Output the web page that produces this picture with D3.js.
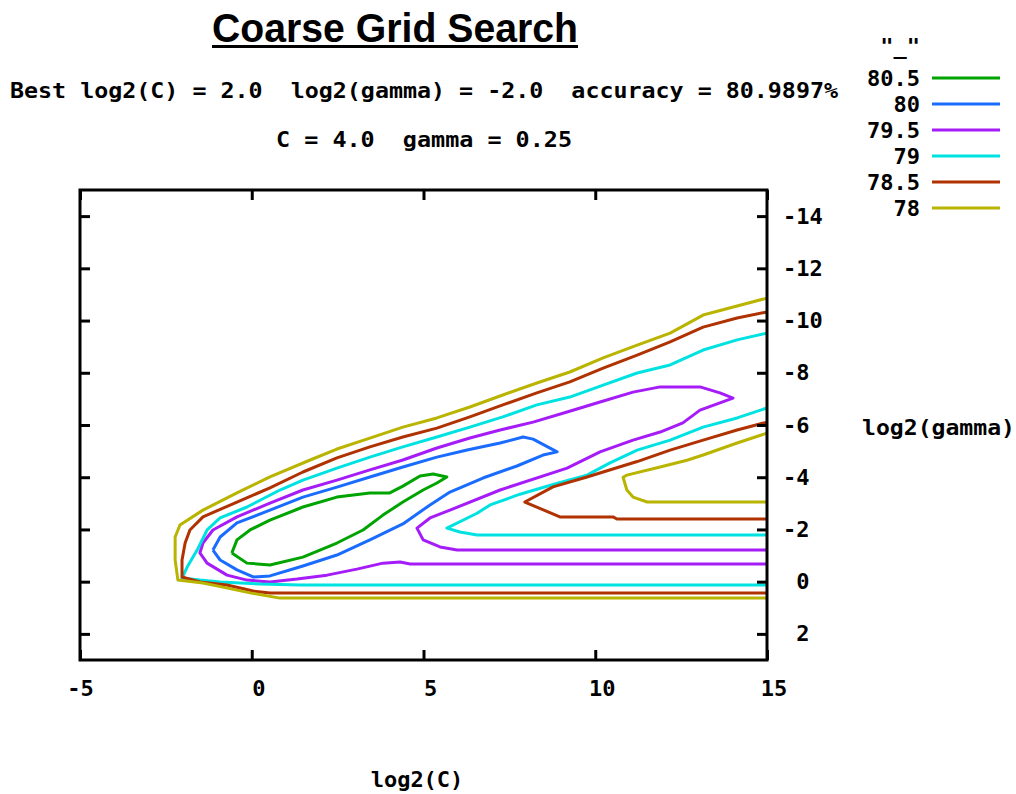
<!DOCTYPE html>
<html>
<head>
<meta charset="utf-8">
<script src="https://cdn.jsdelivr.net/npm/d3@7"></script>
<style>
  html, body { margin: 0; padding: 0; background: #fff; }
  svg { display: block; }
  text { font-family: "DejaVu Sans Mono", "Liberation Mono", monospace; font-weight: bold; fill: #000; }
</style>
</head>
<body>
<div id="chart"></div>
<script>
// ---------------- data ----------------
const titleText = "Coarse Grid Search";
const bestLine1 = "Best log2(C) = 2.0  log2(gamma) = -2.0  accuracy = 80.9897%";
const bestLine2 = "C = 4.0  gamma = 0.25";
const xLabel = "log2(C)";
const yLabel = "log2(gamma)";
const legendTitle = "\"_\"";

const xDomain = [-5, 15];
const yDomain = [-15, 3];
const xTicks = [-5, 0, 5, 10, 15];
const yTicks = [-14, -12, -10, -8, -6, -4, -2, 0, 2];

const levels = ["80.5", "80", "79.5", "79", "78.5", "78"];

// contour polylines, [log2(C), log2(gamma)]
const c805 = [[-0.58,-1.10],[-0.43,-1.60],[-0.05,-1.98],[0.53,-2.36],[1.49,-2.86],[2.48,-3.24],[3.44,-3.40],[4.02,-3.40],[4.40,-3.66],[4.90,-4.05],[5.28,-4.12],[5.68,-4.01],[5.39,-3.78],[4.99,-3.51],[4.40,-3.05],[3.82,-2.55],[3.24,-1.98],[2.48,-1.48],[1.49,-0.94],[0.53,-0.64],[-0.14,-0.71],[-0.58,-1.10]];

const c80 = [[-1.13,-1.21],[-0.92,-1.71],[-0.43,-2.25],[0.53,-2.74],[1.49,-3.24],[2.48,-3.62],[3.44,-4.01],[4.40,-4.39],[5.39,-4.77],[6.27,-5.04],[7.23,-5.31],[7.90,-5.54],[8.19,-5.46],[8.89,-4.97],[8.48,-4.85],[7.72,-4.43],[6.73,-3.97],[5.77,-3.43],[5.19,-2.94],[4.40,-2.21],[3.44,-1.60],[2.48,-1.02],[1.49,-0.60],[0.53,-0.22],[0.04,-0.18],[-0.43,-0.45],[-0.92,-0.83],[-1.13,-1.21]];

const c795 = [[15,-1.21],[5.98,-1.21],[5.48,-1.33],[4.99,-1.60],[4.81,-2.05],[5.19,-2.44],[5.77,-2.74],[7.23,-3.51],[9.18,-4.35],[10.14,-4.97],[11.10,-5.42],[11.89,-5.73],[12.55,-6.08],[13.05,-6.57],[14.01,-7.03],[13.63,-7.23],[13.05,-7.46],[11.89,-7.46],[11.10,-7.26],[10.14,-6.88],[9.18,-6.50],[8.19,-6.11],[7.23,-5.81],[6.35,-5.50],[5.39,-5.12],[4.40,-4.66],[3.44,-4.28],[2.48,-3.89],[1.49,-3.51],[0.53,-3.01],[-0.43,-2.48],[-1.13,-1.98],[-1.42,-1.48],[-1.51,-1.10],[-1.30,-0.71],[-0.72,-0.25],[-0.14,-0.06],[0.53,0.01],[1.32,-0.10],[2.19,-0.25],[3.06,-0.48],[3.82,-0.71],[4.32,-0.75],[4.61,-0.68],[15,-0.68]];

const c79Outer = [[15,-9.52],[14.13,-9.26],[13.14,-8.87],[12.18,-8.30],[11.22,-7.99],[10.23,-7.53],[9.26,-7.07],[8.30,-6.77],[7.31,-6.31],[6.35,-5.92],[5.39,-5.54],[4.40,-5.16],[3.44,-4.77],[2.48,-4.35],[1.49,-3.89],[0.82,-3.51],[-0.14,-2.86],[-0.92,-2.44],[-1.30,-1.98],[-1.59,-1.21],[-1.88,-0.56],[-2.03,-0.14],[-1.51,-0.06],[-0.92,0.01],[0.24,0.09],[1.40,0.13],[15,0.13]];
const c79Inner = [[15,-6.65],[14.13,-6.27],[13.14,-5.92],[12.18,-5.42],[11.22,-5.04],[10.43,-4.55],[9.76,-4.08],[8.77,-3.72],[7.81,-3.35],[6.94,-2.94],[6.56,-2.62],[5.68,-2.05],[6.06,-1.90],[6.56,-1.79],[15,-1.79]];

const c785Outer = [[15,-10.33],[14.13,-10.10],[13.14,-9.75],[12.18,-9.18],[11.22,-8.68],[10.23,-8.18],[9.26,-7.65],[8.30,-7.23],[7.31,-6.77],[6.35,-6.31],[5.39,-5.88],[4.40,-5.54],[3.44,-5.16],[2.48,-4.74],[1.49,-4.20],[0.53,-3.59],[-0.43,-3.05],[-1.42,-2.48],[-1.80,-1.98],[-1.94,-1.48],[-2.03,-0.83],[-2.03,-0.18],[-1.51,0.01],[-0.72,0.13],[0.04,0.36],[0.53,0.43],[15,0.43]];
const c785Inner = [[15,-6.11],[14.13,-5.81],[13.14,-5.42],[12.18,-5.04],[11.22,-4.60],[10.23,-4.20],[9.76,-4.01],[8.77,-3.63],[7.95,-3.05],[8.97,-2.48],[10.52,-2.48],[10.63,-2.40],[15,-2.40]];

const c78Outer = [[15,-10.86],[13.14,-10.21],[12.18,-9.52],[11.22,-9.06],[10.23,-8.57],[9.26,-8.03],[8.30,-7.61],[7.31,-7.15],[6.35,-6.69],[5.39,-6.27],[4.40,-5.92],[3.44,-5.50],[2.48,-5.08],[1.70,-4.66],[0.53,-4.01],[-0.43,-3.40],[-1.42,-2.74],[-2.09,-2.17],[-2.23,-1.71],[-2.23,-0.83],[-2.15,-0.06],[-1.42,0.05],[-0.84,0.21],[-0.05,0.43],[0.82,0.63],[15,0.63]];
const c78Inner = [[15,-5.69],[14.13,-5.31],[13.14,-4.85],[12.67,-4.65],[11.89,-4.39],[10.92,-4.08],[10.81,-4.00],[10.92,-3.51],[11.10,-3.24],[11.51,-3.05],[15,-3.05]];

const levelPaths = [[c805], [c80], [c795], [c79Outer, c79Inner], [c785Outer, c785Inner], [c78Outer, c78Inner]];

// ---------------- styles ----------------
const palette = ["#00a400", "#1a6cff", "#a61cf8", "#00e2e2", "#b03200", "#b8b400"];
const W = 1016, H = 794;
const plot = { left: 80, right: 767, top: 190, bottom: 660 };

const svg = d3.select("#chart").append("svg").attr("width", W).attr("height", H);

const x = d3.scaleLinear().domain(xDomain).range([plot.left, plot.right]);
const y = d3.scaleLinear().domain(yDomain).range([plot.top, plot.bottom]);

// title
const title = svg.append("text")
  .attr("x", 212).attr("y", 42)
  .attr("textLength", 366).attr("lengthAdjust", "spacingAndGlyphs")
  .style("font-family", "'Liberation Sans Narrow', 'Liberation Sans', Arial, sans-serif")
  .style("font-size", "40px").style("font-weight", "bold")
  .text(titleText);
svg.append("rect").attr("x", 212).attr("y", 45).attr("width", 366).attr("height", 3).attr("fill", "#000");

svg.append("text").attr("x", 10).attr("y", 98)
  .attr("textLength", 828).attr("lengthAdjust", "spacingAndGlyphs")
  .style("font-size", "22px").attr("xml:space", "preserve").style("white-space", "pre")
  .text(bestLine1);
svg.append("text").attr("x", 276).attr("y", 147)
  .attr("textLength", 296).attr("lengthAdjust", "spacingAndGlyphs")
  .style("font-size", "22px").attr("xml:space", "preserve").style("white-space", "pre")
  .text(bestLine2);

// contours
const line = d3.line().x(d => x(d[0])).y(d => y(d[1]));
const cg = svg.append("g");
levelPaths.forEach((paths, i) => {
  paths.forEach(p => {
    cg.append("path").attr("d", line(p))
      .attr("fill", "none").attr("stroke", palette[i])
      .attr("stroke-width", 3).attr("stroke-linejoin", "round");
  });
});

// frame
svg.append("rect")
  .attr("x", plot.left).attr("y", plot.top)
  .attr("width", plot.right - plot.left).attr("height", plot.bottom - plot.top)
  .attr("fill", "none").attr("stroke", "#000").attr("stroke-width", 3);

const fmt = v => (v < 0 ? String(v) : " " + v);

// bottom axis
const gb = svg.append("g").attr("transform", `translate(0,${plot.bottom})`)
  .call(d3.axisBottom(x).tickValues(xTicks).tickSizeInner(-10).tickSizeOuter(0).tickPadding(20).tickFormat(fmt));
// top axis
const gt = svg.append("g").attr("transform", `translate(0,${plot.top})`)
  .call(d3.axisTop(x).tickValues(xTicks).tickSizeInner(-10).tickSizeOuter(0).tickFormat(""));
// left axis
const gl = svg.append("g").attr("transform", `translate(${plot.left},0)`)
  .call(d3.axisLeft(y).tickValues(yTicks).tickSizeInner(-10).tickSizeOuter(0).tickFormat(""));
// right axis
const gr = svg.append("g").attr("transform", `translate(${plot.right},0)`)
  .call(d3.axisRight(y).tickValues(yTicks).tickSizeInner(-10).tickSizeOuter(0).tickPadding(16).tickFormat(fmt));

[gb, gt, gl, gr].forEach(g => {
  g.select(".domain").remove();
  g.selectAll(".tick line").attr("stroke", "#000").attr("stroke-width", 3);
  g.selectAll("text")
    .attr("fill", "#000")
    .style("font-family", "'DejaVu Sans Mono', monospace")
    .style("font-size", "22px").style("font-weight", "bold")
    .attr("xml:space", "preserve").style("white-space", "pre");
});
gr.selectAll("text").attr("text-anchor", "start");

// axis labels
svg.append("text").attr("x", 417).attr("y", 787).attr("text-anchor", "middle")
  .style("font-size", "22px").text(xLabel);
svg.append("text").attr("x", 862).attr("y", 435)
  .attr("textLength", 153).attr("lengthAdjust", "spacingAndGlyphs")
  .style("font-size", "22px").text(yLabel);

// legend
const legendX = 920, legendY0 = 78, legendStep = 26;
svg.append("text").attr("x", legendX).attr("y", 54).attr("text-anchor", "end")
  .style("font-size", "22px").text(legendTitle);
const lg = svg.append("g");
levels.forEach((lv, i) => {
  const yy = legendY0 + i * legendStep;
  lg.append("text").attr("x", legendX).attr("y", yy + 8).attr("text-anchor", "end")
    .style("font-size", "22px").text(lv);
  lg.append("line").attr("x1", 932).attr("x2", 1000).attr("y1", yy).attr("y2", yy)
    .attr("stroke", palette[i]).attr("stroke-width", 3);
});
</script>
</body>
</html>
